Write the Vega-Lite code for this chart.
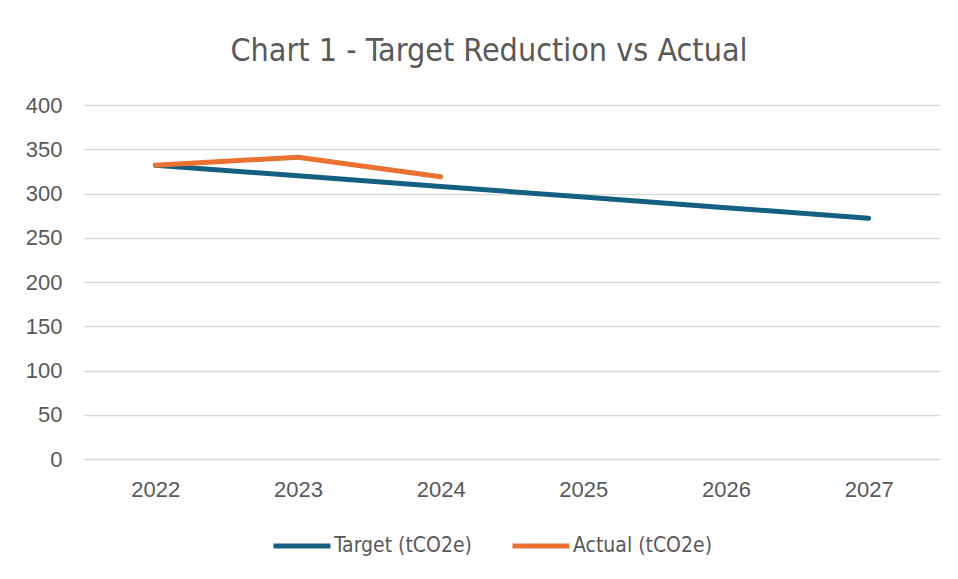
{
  "$schema": "https://vega.github.io/schema/vega-lite/v6.json",
  "autosize": {"type": "none"},
  "width": 856,
  "height": 354,
  "padding": {"left": 84, "top": 105, "right": 18, "bottom": 120},
  "background": "white",
  "title": {
    "text": "Chart 1 - Target Reduction vs Actual",
    "font": "DejaVu Sans Condensed, Roboto, sans-serif",
    "fontSize": 32,
    "fontWeight": "normal",
    "color": "#595959",
    "anchor": "middle",
    "baseline": "alphabetic",
    "dx": -23,
    "offset": 1
  },
  "data": {
    "values": [
      {"year": "2022", "series": "Target (tCO2e)", "value": 332},
      {"year": "2023", "series": "Target (tCO2e)", "value": 320},
      {"year": "2024", "series": "Target (tCO2e)", "value": 308},
      {"year": "2025", "series": "Target (tCO2e)", "value": 296},
      {"year": "2026", "series": "Target (tCO2e)", "value": 284},
      {"year": "2027", "series": "Target (tCO2e)", "value": 272},
      {"year": "2022", "series": "Actual (tCO2e)", "value": 332},
      {"year": "2023", "series": "Actual (tCO2e)", "value": 341},
      {"year": "2024", "series": "Actual (tCO2e)", "value": 319}
    ]
  },
  "mark": {"type": "line", "strokeWidth": 5, "strokeCap": "round", "strokeJoin": "round"},
  "encoding": {
    "x": {
      "field": "year",
      "type": "ordinal",
      "scale": {"type": "point", "padding": 0.5},
      "axis": {
        "title": null,
        "labelAngle": 0,
        "labelFont": "Liberation Sans",
        "labelFontSize": 22,
        "labelColor": "#595959",
        "labelPadding": 20,
        "domain": false,
        "ticks": false,
        "grid": false
      }
    },
    "y": {
      "field": "value",
      "type": "quantitative",
      "scale": {"domain": [0, 400], "nice": false},
      "axis": {
        "title": null,
        "values": [0, 50, 100, 150, 200, 250, 300, 350, 400],
        "labelFont": "Liberation Sans",
        "labelFontSize": 22,
        "labelColor": "#595959",
        "labelPadding": 22,
        "domain": false,
        "ticks": false,
        "grid": true,
        "gridColor": "#d9d9d9",
        "gridWidth": 1.5
      }
    },
    "color": {
      "field": "series",
      "type": "nominal",
      "sort": ["Target (tCO2e)", "Actual (tCO2e)"],
      "scale": {"domain": ["Target (tCO2e)", "Actual (tCO2e)"], "range": ["#156082", "#E97132"]},
      "legend": {
        "title": null,
        "orient": "none",
        "direction": "horizontal",
        "legendX": 187,
        "legendY": 410,
        "symbolType": "stroke",
        "symbolSize": 3249,
        "symbolStrokeWidth": 5,
        "labelFont": "DejaVu Sans Condensed, Roboto, sans-serif",
        "labelFontSize": 21,
        "labelColor": "#595959",
        "labelOffset": 1,
        "columnPadding": 30
      }
    }
  },
  "config": {"view": {"stroke": null}}
}
